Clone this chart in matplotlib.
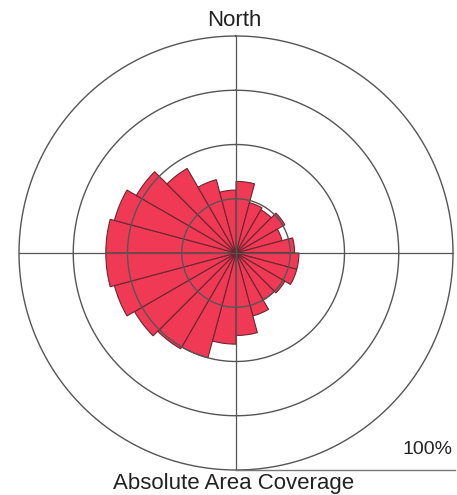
import numpy as np
import matplotlib.pyplot as plt
from matplotlib.lines import Line2D

plt.rcParams['font.family'] = ['Liberation Sans', 'DejaVu Sans']

# 15-degree direction bins, clockwise from north (start of bin, degrees)
bin_start = np.arange(0, 360, 15)
# absolute area coverage per bin, percent of outer ring
coverage = [33, 24, 23, 26, 22, 27, 29, 29, 26, 25, 30, 38,
            42, 50, 51, 54, 58, 60, 60, 58, 53, 45, 35, 29]
rings = [25, 50, 75, 100]

fig = plt.figure(figsize=(4.57, 4.95), dpi=100)
# polar area centred at (236, 253) px, radius 217 px
ax = fig.add_axes([19 / 457, 25 / 495, 434 / 457, 434 / 495], projection='polar')
ax.set_theta_zero_location('N')
ax.set_theta_direction(-1)
ax.axis('off')
ax.set_ylim(0, 100)

theta = np.deg2rad(bin_start + 7.5)
ax.bar(theta, coverage, width=np.deg2rad(15), bottom=0,
       color='#f03a55', edgecolor='#6b2630', linewidth=0.8, zorder=2)

t = np.linspace(0, 2 * np.pi, 400)
for r in rings:
    ax.plot(t, np.full_like(t, r), color='#555555', lw=1.0, zorder=3,
            clip_on=False)
for a in [0, 90, 180, 270]:
    ax.plot([np.deg2rad(a)] * 2, [0, 100], color='#555555', lw=0.9, zorder=3,
            clip_on=False)

# scale line and labels
fig.add_artist(Line2D([236 / 457, 455 / 457], [1 - 470 / 495] * 2,
                      transform=fig.transFigure, color='#777777', lw=1.0))
fig.text(452 / 457, 1 - 450 / 495, '100%', ha='right', va='center',
         fontsize=14, color='#222222')
fig.text(234 / 457, 1 - 20 / 495, 'North', ha='center', va='center',
         fontsize=16, color='#222222')
fig.text(234 / 457, 1 - 484 / 495, 'Absolute Area Coverage', ha='center',
         va='center', fontsize=16, color='#222222')

fig.savefig('out.png', dpi=100)
